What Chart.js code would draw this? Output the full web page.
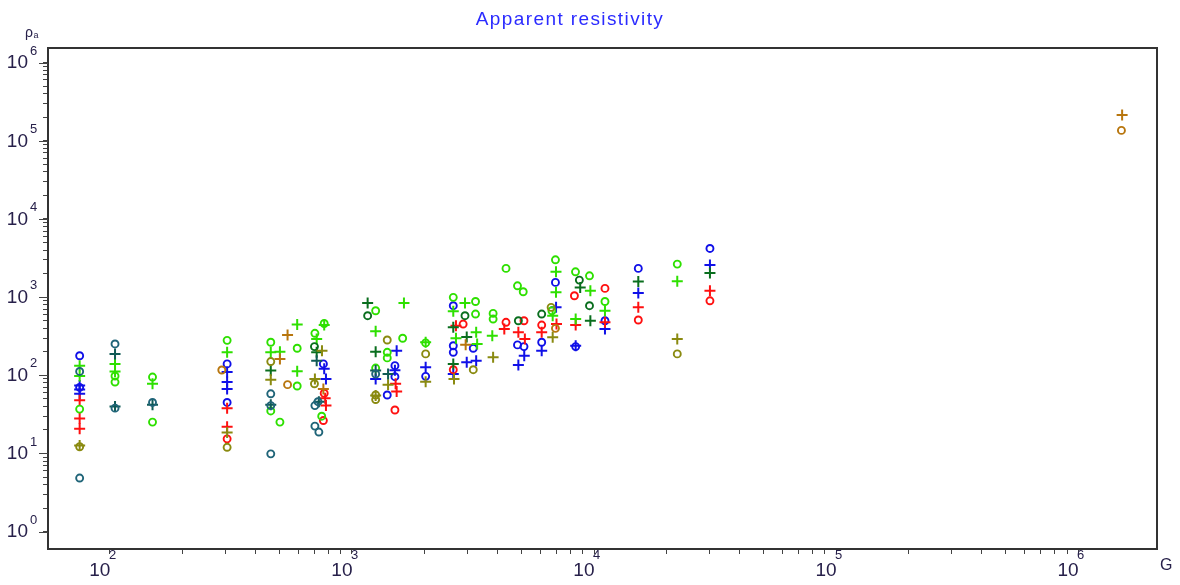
<!DOCTYPE html>
<html>
<head>
<meta charset="utf-8">
<script src="https://cdn.jsdelivr.net/npm/chart.js@4.4.1/dist/chart.umd.min.js"></script>
<style>
  html, body { margin: 0; padding: 0; background: #fff; }
  #wrap { width: 1180px; height: 585px; position: relative; }
</style>
</head>
<body>
<div id="wrap"><canvas id="rhoChart"></canvas></div>
<script>
// axis decades (log scales)
const xDecades = [100, 1000, 10000, 100000, 1000000];
const yDecades = [1, 10, 100, 1000, 10000, 100000, 1000000];
const minorSteps = [2, 3, 4, 5, 6, 7, 8, 9];

// [G, rho_a] pairs
const blueCross = [[75,74],[75,66],[75,58],[305,110],[305,82],[305,67],[768,121],[781,90],[1530,207],[1505,116],
  [1253,90],[2016,127],[2622,104],[2980,147],[3260,154],[5150,178],[4870,136],[6080,207],[6970,741],[8400,239],
  [11100,391],[15240,1128],[30130,2570]];
const blueCircle = [[75,178],[75,70],[305,140],[305,45],[762,140],[1505,133],[1505,96],[1399,56],[2016,97],
  [2622,777],[2622,239],[2622,197],[3171,222],[4830,245],[5137,233],[6080,265],[6930,1545],[8400,233],
  [11100,499],[15240,2332],[30130,4200]];
const redCross = [[75,48],[75,28],[75,20.7],[305,38],[305,22],[775,51],[781,41],[1515,78],[1530,62],[2690,431],
  [4870,355],[5180,292],[6080,355],[7000,453],[8400,440],[11100,477],[4260,391],[15240,741],[30130,1207]];
const redCircle = [[305,15.4],[768,59],[762,26.4],[1505,36],[2880,453],[2622,118],[4330,477],[5137,499],
  [6080,440],[8300,1042],[11100,1295],[15240,510],[30130,899]];
const limeCross = [[75,133],[75,98],[105,140],[105,112],[150,78],[305,197],[462,197],[504,201],[594,447],[594,113],
  [768,440],[715,292],[1253,366],[1640,841],[2016,265],[2622,660],[2690,298],[2931,841],[3260,355],[3290,252],
  [3800,321],[6750,579],[6966,2110],[6966,1152],[8400,525],[9660,1207],[11100,670],[22080,1600]];
const limeCircle = [[75,37],[105,98],[105,82],[150,95],[150,25.2],[305,280],[462,265],[462,35],[504,25.2],
  [594,222],[594,73],[768,460],[703,345],[750,30],[1253,670],[1253,124],[1399,197],[1399,167],[1620,298],
  [2016,260],[2622,994],[3240,880],[3240,608],[3830,620],[3830,525],[4330,2332],[4830,1398],[5100,1172],
  [6700,670],[6930,3005],[8386,2110],[9580,1877],[11100,880],[22080,2647]];
const darkGreenCross = [[715,197],[1161,841],[1253,201],[2622,411],[2622,140],[2980,310],[8770,1334],[9660,499],
  [15240,1582],[30130,2032],[462,115]];
const darkGreenCircle = [[700,233],[1161,579],[2931,579],[4870,499],[6080,608],[8700,1654],[9580,777]];
const tealCross = [[105,188],[105,40],[150,42],[462,42],[715,154],[1253,115],[1410,104],[730,46]];
const tealCircle = [[75,112],[75,4.85],[105,252],[105,38],[150,45],[462,58],[462,41],[462,9.9],[703,41],
  [703,22.4],[724,46],[730,18.8],[1253,104]];
const oliveCross = [[75,12.7],[305,18.6],[462,88],[752,207],[703,90],[1253,55],[1410,76],[2016,83],[2640,90],
  [3830,170],[6750,307],[22080,292]];
const oliveCircle = [[75,12.2],[305,12],[462,150],[700,78],[1399,283],[1253,56],[1253,49],[2016,188],[3171,118],
  [6650,741],[22080,188]];
const brownCross = [[504,162],[542,327],[762,67],[2950,247],[1520000,213500]];
const brownCircle = [[290,117],[542,76],[6930,399],[1510000,136000]];

function toPoints(pairs) {
  return pairs.map(p => ({x: p[0], y: p[1]}));
}

function crossSet(pairs, color) {
  return {
    data: toPoints(pairs),
    pointStyle: 'cross',
    pointRadius: 5.5,
    pointBorderWidth: 2,
    borderColor: color,
    backgroundColor: color,
    pointHoverRadius: 5.5
  };
}

function circleSet(pairs, color) {
  return {
    data: toPoints(pairs),
    pointStyle: 'circle',
    pointRadius: 3.5,
    pointBorderWidth: 1.9,
    borderColor: color,
    backgroundColor: 'rgba(0,0,0,0)',
    pointHoverRadius: 3.5
  };
}

const datasets = [
  circleSet(tealCircle, '#1f6478'),
  crossSet(tealCross, '#0f5a55'),
  circleSet(oliveCircle, '#8a8a10'),
  crossSet(oliveCross, '#8a8a10'),
  circleSet(brownCircle, '#b8760e'),
  crossSet(brownCross, '#b8760e'),
  circleSet(darkGreenCircle, '#0a6e1e'),
  crossSet(darkGreenCross, '#0a6e1e'),
  circleSet(limeCircle, '#2ee000'),
  crossSet(limeCross, '#2ee000'),
  circleSet(redCircle, '#ff1010'),
  crossSet(redCross, '#ff1010'),
  circleSet(blueCircle, '#1010e8'),
  crossSet(blueCross, '#1010e8')
];

function logTicks(decades, lo, hi) {
  const out = [];
  decades.forEach(d => {
    if (d >= lo && d <= hi) out.push({value: d});
    minorSteps.forEach(k => {
      const v = d * k;
      if (v >= lo && v <= hi && v < decades[decades.length - 1] * 1.5) out.push({value: v});
    });
  });
  return out;
}

const labelColor = '#27204a';

const frameAndLabels = {
  id: 'frameAndLabels',
  afterDraw(chart) {
    const ctx = chart.ctx;
    const a = chart.chartArea;
    const xs = chart.scales.x;
    const ys = chart.scales.y;
    ctx.save();

    // frame
    ctx.strokeStyle = '#333333';
    ctx.lineWidth = 2;
    ctx.strokeRect(a.left, a.top, a.right - a.left, a.bottom - a.top);

    // longer ticks at decades
    ctx.lineWidth = 1;
    ctx.strokeStyle = '#444';
    yDecades.forEach(d => {
      const py = Math.round(ys.getPixelForValue(d)) + 0.5;
      ctx.beginPath();
      ctx.moveTo(a.left - 9, py);
      ctx.lineTo(a.left, py);
      ctx.stroke();
    });

    // y labels 10^n
    ctx.fillStyle = labelColor;
    ctx.textBaseline = 'middle';
    yDecades.forEach((d, i) => {
      const py = ys.getPixelForValue(d);
      ctx.font = '19px "Liberation Sans", Arial, sans-serif';
      ctx.textAlign = 'right';
      ctx.fillText('10', 28, py + 0.5);
      ctx.font = '13px "Liberation Sans", Arial, sans-serif';
      ctx.textAlign = 'left';
      ctx.fillText(String(i), 30, py - 11.5);
    });

    // x labels 10^n
    xDecades.forEach((d, i) => {
      const px = xs.getPixelForValue(d);
      ctx.font = '19px "Liberation Sans", Arial, sans-serif';
      ctx.textAlign = 'right';
      ctx.fillText('10', px + 0.5, a.bottom + 22);
      ctx.font = '13px "Liberation Sans", Arial, sans-serif';
      ctx.textAlign = 'left';
      ctx.fillText(String(i + 2), px - 1, a.bottom + 6.5);
    });

    // axis names
    ctx.font = '16px "Liberation Sans", Arial, sans-serif';
    ctx.textAlign = 'left';
    ctx.fillText('G', 1160, a.bottom + 17);
    ctx.font = '14px "Liberation Sans", Arial, sans-serif';
    ctx.fillText('\u03C1', 25, 33);
    ctx.font = '9px "Liberation Sans", Arial, sans-serif';
    ctx.fillText('a', 33.5, 36);

    // title
    ctx.fillStyle = '#2b2bff';
    ctx.font = '19px "Liberation Sans", Arial, sans-serif';
    ctx.letterSpacing = '1.4px';
    ctx.textAlign = 'center';
    ctx.textBaseline = 'alphabetic';
    ctx.fillText('Apparent resistivity', 570, 25);
    ctx.restore();
  }
};

const ctx = document.getElementById('rhoChart').getContext('2d');
new Chart(ctx, {
  type: 'scatter',
  data: { datasets: datasets },
  options: {
    responsive: true,
    maintainAspectRatio: false,
    animation: false,
    layout: { padding: { left: 0, right: 23, top: 48, bottom: 0 } },
    plugins: {
      legend: { display: false },
      title: { display: false },
      tooltip: { enabled: false }
    },
    scales: {
      x: {
        type: 'logarithmic',
        min: 55.5,
        max: 2118000,
        afterBuildTicks: s => { s.ticks = logTicks(xDecades, 100, 1100000); },
        afterFit: s => { s.height = 36; },
        ticks: { display: false },
        border: { display: false },
        grid: { display: true, drawOnChartArea: false, drawTicks: true, tickLength: 5, color: '#444' }
      },
      y: {
        type: 'logarithmic',
        min: 0.625,
        max: 1540000,
        afterBuildTicks: s => { s.ticks = logTicks(yDecades, 0.625, 1000001); },
        afterFit: s => { s.width = 48; },
        ticks: { display: false },
        border: { display: false },
        grid: { display: true, drawOnChartArea: false, drawTicks: true, tickLength: 5, color: '#444' }
      }
    }
  },
  plugins: [frameAndLabels]
});
</script>
</body>
</html>
